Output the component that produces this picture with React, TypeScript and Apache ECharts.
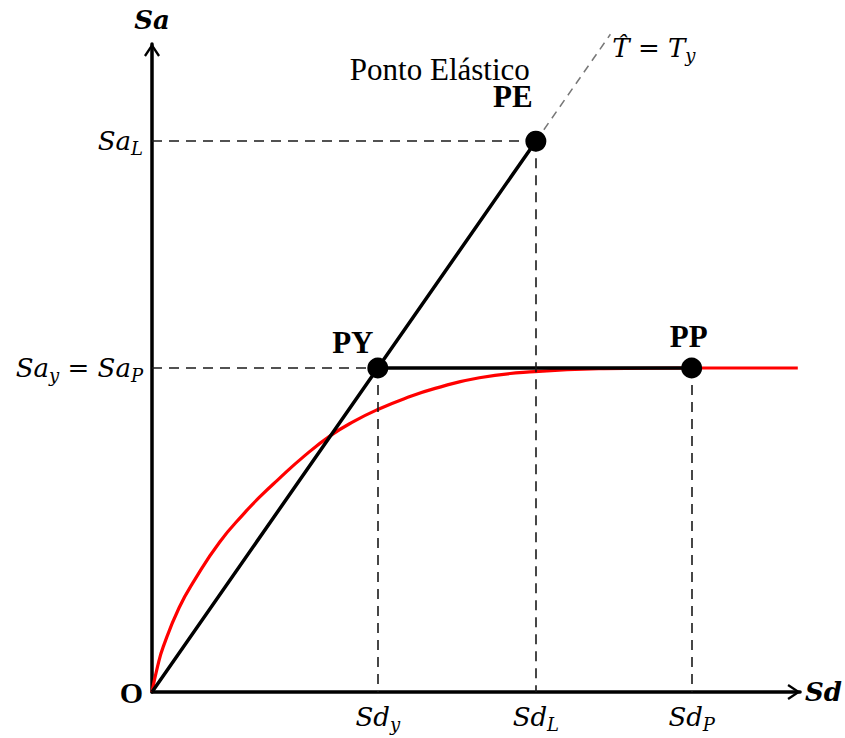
import React, { useEffect, useRef } from "react";
import * as echarts from "echarts";

// Characteristic spectral displacement / acceleration values
const SD_Y = 1.0;
const SD_L = 1.7;
const SD_P = 2.39;
const SA_Y = 1.0;
const SA_L = 1.7;
const T_LINE_END = 2.03;

// Elastic branch (period T = Ty) and its dashed extension
const elasticLine: number[][] = [[0, 0], [SD_Y, SA_Y], [SD_L, SA_L]];
const elasticExtension: number[][] = [[SD_L, SA_L], [T_LINE_END, T_LINE_END]];
// Perfectly plastic plateau
const plateau: number[][] = [[SD_Y, SA_Y], [SD_P, SA_Y]];
// Capacity curve (red)
const capacityCurve: number[][] = [
  [0, 0], [0.025, 0.08], [0.05, 0.14], [0.12, 0.26], [0.189, 0.346],
  [0.3, 0.463], [0.41, 0.553], [0.483, 0.606], [0.556, 0.654], [0.674, 0.728],
  [0.792, 0.792], [0.896, 0.836], [1.0, 0.872], [1.12, 0.906], [1.254, 0.937],
  [1.45, 0.97], [1.695, 0.989], [2.0, 0.998], [2.39, 1.0], [2.86, 1.0],
];
// Named points
const pointNames = ["PY", "PE", "PP"];
const pointValues: number[][] = [[SD_Y, SA_Y], [SD_L, SA_L], [SD_P, SA_Y]];
const pointLabelOffsets: number[][] = [[-25, 1.5], [-23, -17.5], [-3, -4.5]];

// Tick labels
const xTickValues = [SD_Y, SD_L, SD_P];
const xTickLabels = ["{m|Sd}{s|y}", "{m|Sd}{s|L}", "{m|Sd}{s|P}"];
const yTickValues = [0, SA_Y, SA_L];
const yTickLabels = ["{o|O}", "{m|Sa}{s|y}{m| = Sa}{s|P}", "{m|Sa}{s|L}"];

const MATH_FONT = "DejaVu Serif";
const TEXT_FONT = "Liberation Serif";

const rich = {
  m: { fontFamily: MATH_FONT, fontStyle: "italic", fontSize: 26, lineHeight: 32, color: "#000", verticalAlign: "middle" },
  s: { fontFamily: MATH_FONT, fontStyle: "italic", fontSize: 18, lineHeight: 18, color: "#000", verticalAlign: "bottom" },
  o: { fontFamily: TEXT_FONT, fontWeight: "bold", fontSize: 30, lineHeight: 32, color: "#000" },
};

const ARROW = "path://M10,0L20,15L17.6,16.6L10,5.2L2.4,16.6L0,15Z";

function lookup(values: number[], labels: string[]) {
  return (v: number) => {
    const i = values.findIndex((x) => Math.abs(x - v) < 1e-6);
    return i >= 0 ? labels[i] : "";
  };
}

export default function App() {
  const ref = useRef<HTMLDivElement>(null);

  useEffect(() => {
    if (!ref.current) return;
    const chart = echarts.init(ref.current, null, { renderer: "svg" });

    const axisLine = {
      show: true,
      lineStyle: { color: "#000", width: 3.5 },
      symbol: ["none", ARROW],
      symbolSize: [16, 14],
      symbolOffset: [0, -6],
    };
    const dash = { color: "#1a1a1a", width: 1.6, type: [10, 7] };

    chart.setOption({
      animation: false,
      backgroundColor: "#fff",
      grid: { left: 152, top: 44, right: 42, bottom: 46 },
      xAxis: {
        type: "value",
        min: 0,
        max: 2.87,
        axisLine,
        axisTick: { show: false },
        splitLine: { show: false },
        axisLabel: {
          customValues: xTickValues,
          formatter: lookup(xTickValues, xTickLabels),
          margin: 9,
          rich,
        },
        name: "Sd",
        nameLocation: "end",
        nameGap: 5,
        nameTextStyle: {
          fontFamily: MATH_FONT, fontStyle: "italic", fontWeight: "bold",
          fontSize: 26, color: "#000", verticalAlign: "middle",
        },
      },
      yAxis: {
        type: "value",
        min: 0,
        max: 2.0,
        axisLine,
        axisTick: { show: false },
        splitLine: { show: false },
        axisLabel: {
          customValues: yTickValues,
          formatter: lookup(yTickValues, yTickLabels),
          margin: 9,
          rich,
        },
        name: "Sa",
        nameLocation: "end",
        nameGap: 9,
        nameTextStyle: {
          fontFamily: MATH_FONT, fontStyle: "italic", fontWeight: "bold",
          fontSize: 26, lineHeight: 30, color: "#000", align: "center",
        },
      },
      series: [
        {
          name: "capacity",
          type: "line",
          data: capacityCurve,
          smooth: 0.5,
          showSymbol: false,
          lineStyle: { color: "#ff0000", width: 3.2 },
          z: 2,
        },
        {
          name: "extension",
          type: "line",
          data: elasticExtension,
          showSymbol: false,
          clip: false,
          lineStyle: { color: "#777", width: 1.5, type: [8, 6] },
          endLabel: {
            show: true,
            formatter: "{m|T\u0302 = T}{s|y}",
            rich,
            offset: [-6, 14],
          },
          z: 2,
        },
        {
          name: "elastic",
          type: "line",
          data: elasticLine,
          showSymbol: false,
          lineStyle: { color: "#000", width: 3.5 },
          z: 3,
        },
        {
          name: "plateau",
          type: "line",
          data: plateau,
          showSymbol: false,
          lineStyle: { color: "#000", width: 3.5 },
          z: 3,
          markLine: {
            silent: true,
            symbol: ["none", "none"],
            label: { show: false },
            lineStyle: dash,
            data: [
              [{ coord: [0, SA_L] }, { coord: [SD_L, SA_L] }],
              [{ coord: [SD_L, SA_L] }, { coord: [SD_L, 0] }],
              [{ coord: [0, SA_Y] }, { coord: [SD_Y, SA_Y] }],
              [{ coord: [SD_Y, SA_Y] }, { coord: [SD_Y, 0] }],
              [{ coord: [SD_P, SA_Y] }, { coord: [SD_P, 0] }],
            ],
          },
        },
        {
          name: "points",
          type: "scatter",
          symbolSize: 21,
          itemStyle: { color: "#000", opacity: 1 },
          z: 5,
          data: pointNames.map((n, i) => ({
            name: n,
            value: pointValues[i],
            label: {
              show: true,
              position: "top",
              formatter: n,
              offset: pointLabelOffsets[i],
              fontFamily: TEXT_FONT,
              fontWeight: "bold",
              fontSize: 31,
              lineHeight: 24,
              color: "#000",
            },
          })),
        },
        {
          name: "annotation",
          type: "scatter",
          symbolSize: 0,
          itemStyle: { color: "#000", opacity: 1 },
          z: 5,
          data: [
            {
              name: "Ponto Elástico",
              value: pointValues[1],
              label: {
                show: true,
                position: "top",
                distance: 0,
                formatter: "Ponto Elástico",
                offset: [-96, -61],
                fontFamily: TEXT_FONT,
                fontSize: 31,
                lineHeight: 22,
                color: "#000",
              },
            },
          ],
        },
      ],
    });

    return () => chart.dispose();
  }, []);

  return (
    <div
      ref={ref}
      style={{ position: "absolute", left: 0, top: 0, width: 845, height: 738 }}
    />
  );
}
